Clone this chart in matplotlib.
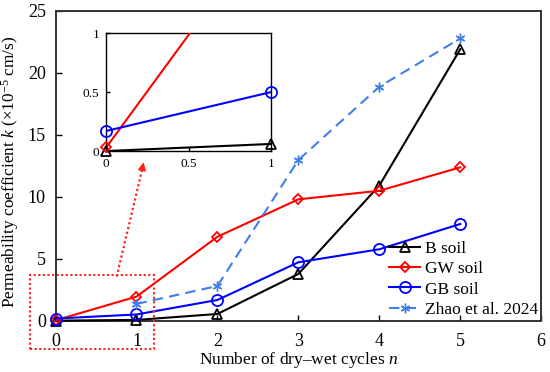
import matplotlib
matplotlib.use("Agg")
import matplotlib.pyplot as plt
from matplotlib.patches import Rectangle
from matplotlib.ticker import FuncFormatter
import numpy as np

plt.rcParams['font.family'] = ['Liberation Serif', 'DejaVu Serif']
plt.rcParams['mathtext.fontset'] = 'custom'
plt.rcParams['mathtext.rm'] = 'Liberation Serif'
plt.rcParams['mathtext.it'] = 'Liberation Serif:italic'

cycles = [0, 1, 2, 3, 4, 5]
b_soil = [0.0, 0.06, 0.54, 3.77, 10.9, 21.9]
gw_soil = [0.03, 1.94, 6.77, 9.79, 10.48, 12.37]
gb_soil = [0.17, 0.50, 1.67, 4.71, 5.76, 7.80]
zhao_cycles = [1, 2, 3, 4, 5]
zhao = [1.35, 2.80, 12.96, 18.87, 22.77]

series = [
    ("B soil", b_soil, "black", "^", 7, 1.5),
    ("GW soil", gw_soil, "#ff0000", "D", 5, 1.5),
    ("GB soil", gb_soil, "#0000ff", "o", 8, 1.5),
]
zhao_color = "#3f7fe8"
red_dot = "#ff2020"

fig = plt.figure(figsize=(5.5, 3.72), dpi=100)
ax = fig.add_axes([0.101, 0.138, 0.883, 0.833])

for label, vals, col, mk, ms, lw in series:
    ax.plot(cycles, vals, color=col, marker=mk, ms=ms, mfc="none", mec=col,
            mew=1.3, lw=lw, label=label, clip_on=False, zorder=3)
ax.plot(zhao_cycles, zhao, color=zhao_color, ls=(0, (5, 3)), lw=1.5,
        marker=(6, 2, 0), ms=7, mew=1.0, label="Zhao et al. 2024", zorder=3)

ax.set_xlim(0, 6)
ax.set_ylim(0, 25)
ax.set_xticks(range(0, 7))
ax.set_yticks(range(0, 26, 5))
ax.tick_params(direction="in", labelsize=13, length=4, width=1)
ax.tick_params(axis="x", pad=9)
ax.tick_params(axis="y", pad=7)
for s in ax.spines.values():
    s.set_color("#333333")
    s.set_linewidth(1.4)
ax.set_xlabel("Number of dry\u2013wet cycles $n$", fontsize=12.5, labelpad=0)
ax.set_ylabel("Permeability coefficient $k$ (\u00d710$^{-5}$ cm/s)", fontsize=12.4)
ax.yaxis.set_label_coords(-0.072, 0.481)

leg = ax.legend(loc="lower right", frameon=False, fontsize=12.5, handlelength=1.8,
                handletextpad=0.3, labelspacing=0.25, borderaxespad=0.05,
                borderpad=0.1)

# red dotted zoom box and arrow
ax.add_patch(Rectangle((-0.32, -2.26), 1.54, 5.92, fill=False, ec=red_dot,
                       ls=(0, (1, 1.2)), lw=1.5, clip_on=False, zorder=4))
ax.plot([0.755, 1.07], [3.55, 12.2], color=red_dot, lw=1.6, ls=(0, (1, 1.2)),
        clip_on=False, zorder=4)
ax.annotate("", xy=(1.095, 13.0), xytext=(1.06, 11.9),
            arrowprops=dict(arrowstyle="-|>", color=red_dot, lw=1.0,
                            mutation_scale=12),
            annotation_clip=False, zorder=4)

# inset
ins = fig.add_axes([0.193, 0.594, 0.300, 0.317])
for label, vals, col, mk, ms, lw in series:
    ins.plot(cycles, vals, color=col, lw=lw, zorder=3)
    xs = np.array(cycles)
    ys = np.array(vals)
    keep = (xs <= 1) & (ys <= 1)
    ins.plot(xs[keep], ys[keep], ls="none", marker=mk, ms=ms, mfc="none",
             mec=col, mew=1.3, clip_on=False, zorder=4)
ins.set_xlim(0, 1)
ins.set_ylim(0, 1)
ins.set_xticks([0, 0.5, 1])
ins.set_yticks([0, 0.5, 1])
fmt = FuncFormatter(lambda v, p: "%g" % v)
ins.xaxis.set_major_formatter(fmt)
ins.yaxis.set_major_formatter(fmt)
ins.tick_params(direction="in", labelsize=9.5, length=3, width=1, pad=5)
for s in ins.spines.values():
    s.set_color("black")
    s.set_linewidth(1.0)

fig.savefig("out.png", dpi=100)
